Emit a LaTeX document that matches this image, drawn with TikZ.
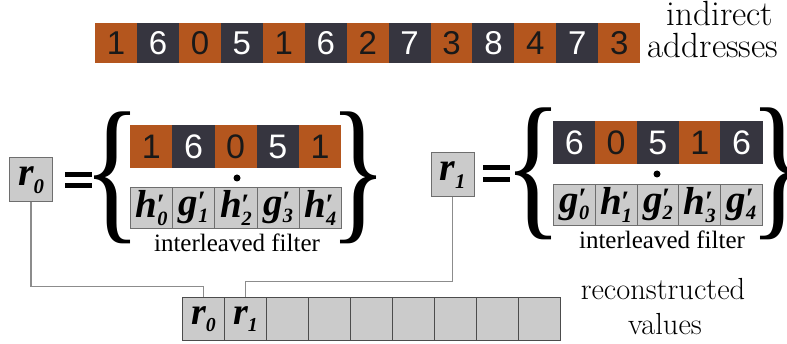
\documentclass[tikz,border=0pt]{standalone}
\usepackage{fontspec}
\usepackage{graphicx}
\setmainfont{Liberation Serif}
\newfontfamily\serf{Liberation Serif}
\newfontfamily\digitfont{Liberation Sans}
\definecolor{orng}{HTML}{B4561E}
\definecolor{drk}{HTML}{36353F}
\definecolor{cellgray}{HTML}{CBCBCB}
\definecolor{cellline}{HTML}{6E6E6E}
\definecolor{wire}{HTML}{8C8C8C}
\newcommand\base{\serf\fontsize{25}{25}\selectfont}
\newcommand\lmbig[1]{\fontfamily{lmr}\fontsize{#1}{#1}\selectfont}
\newcommand\fv[2]{{\base\bfseries\itshape #1\rlap{\raisebox{.08em}{\fontsize{19}{19}\selectfont\kern-.6pt ′}}\raisebox{-.2em}{\fontsize{13}{13}\selectfont #2}}}
\newcommand\rv[1]{{\base\bfseries\itshape r\raisebox{-.2em}{\fontsize{13}{13}\selectfont #1}}}
\newcommand\bigbrace[1]{\resizebox*{58pt}{132pt}{#1}}
\begin{document}
\begin{tikzpicture}[x=1pt,y=-1pt,
  numtop/.style={minimum width=41.92pt, minimum height=40pt, inner sep=0pt, anchor=north west, font=\digitfont\fontsize{33}{33}\selectfont},
  topo/.style={numtop, fill=orng, text=black!90},
  topd/.style={numtop, fill=drk, text=white},
  numgrp/.style={minimum width=42.2pt, minimum height=43pt, inner sep=0pt, anchor=north west, font=\digitfont\fontsize{34}{34}\selectfont},
  grpo/.style={numgrp, fill=orng, text=black!90},
  grpd/.style={numgrp, fill=drk, text=white},
  filt/.style={minimum width=42.2pt, minimum height=41pt, inner sep=0pt, anchor=north west, fill=cellgray, draw=cellline, line width=0.9pt},
  rbox/.style={minimum width=43pt, minimum height=44pt, inner sep=0pt, fill=cellgray, draw=cellline, line width=1pt},
  bcell/.style={minimum width=42pt, minimum height=43pt, inner sep=0pt, anchor=north west, fill=cellgray, draw=black!70, line width=0.9pt},
  bcelltext/.style={inner sep=0pt},
  bracen/.style={inner sep=0pt, font=\serf\fontsize{20}{20}\selectfont},
  dotn/.style={circle, fill=black, inner sep=0pt, minimum size=7pt},
  eqbar/.style={fill=black},
  lbl/.style={inner sep=0pt, anchor=base, font=\base},
  toplbl/.style={inner sep=0pt, anchor=base, font=\lmbig{35}},
  reclbl/.style={inner sep=0pt, anchor=base, font=\lmbig{30.5}},
  wireline/.style={draw=wire, line width=1.6pt}
]
\useasboundingbox (0,0) rectangle (787,344);
\fill[white] (0,0) rectangle (787,344);

% top row of indirect addresses
\foreach \d/\s [count=\i from 0] in {1/topo,6/topd,0/topo,5/topd,1/topo,6/topd,2/topo,7/topd,3/topo,8/topd,4/topo,7/topd,3/topo}
  \node[\s] (t\i) at ({95+41.92*\i},23) {\d};
\node[toplbl] (ind) at (720,26) {indirect};
\node[toplbl] (addr) at (713,58) {addresses};

% left group
\node[rbox] (r0) at (31,180) {\scalebox{1.6}{\rv{0}}};
\fill[eqbar] (65,172) rectangle (92,177);
\fill[eqbar] (65,183) rectangle (92,188);
\node[bracen] (lbA) at (113,178) {\bigbrace{\{}};
\foreach \d/\s [count=\i from 0] in {1/grpo,6/grpd,0/grpo,5/grpd,1/grpo}
  \node[\s] (a\i) at ({130+42.2*\i},125) {\d};
\node[dotn] (dotA) at (237,178) {};
\foreach \l/\n [count=\i from 0] in {h/0,g/1,h/2,g/3,h/4}
  \node[filt] (fa\i) at ({130+42.2*\i},187) {\scalebox{1.56}{\fv{\l}{\n}}};
\node[bracen] (rbA) at (359,178) {\bigbrace{\}}};
\node[lbl] (ifA) at (237,252) {interleaved filter};

% right group
\node[rbox] (r1) at (452.5,175) {\scalebox{1.6}{\rv{1}}};
\fill[eqbar] (483,165) rectangle (510,170);
\fill[eqbar] (483,177) rectangle (510,182);
\node[bracen] (lbB) at (533,174) {\bigbrace{\{}};
\foreach \d/\s [count=\i from 0] in {6/grpd,0/grpo,5/grpd,1/grpo,6/grpd}
  \node[\s] (b\i) at ({553+41.8*\i},121) {\d};
\node[dotn] (dotB) at (657,174) {};
\foreach \l/\n [count=\i from 0] in {g/0,h/1,g/2,h/3,g/4}
  \node[filt, minimum width=41.8pt] (fb\i) at ({553+41.8*\i},184) {\scalebox{1.56}{\fv{\l}{\n}}};
\node[bracen] (rbB) at (778,174) {\bigbrace{\}}};
\node[lbl] (ifB) at (662,249) {interleaved filter};

% reconstructed values
\foreach \i in {0,...,8}
  \node[bcell] (c\i) at ({182+42*\i},297) {};
\node[bcelltext] (rc0) at (c0.center) {\scalebox{1.52}{\rv{0}}};
\node[bcelltext] (rc1) at (c1.center) {\scalebox{1.52}{\rv{1}}};
\node[reclbl] (rec) at (663,300) {reconstructed};
\node[reclbl] (val) at (665,335) {values};

% connectors
\draw[wireline] (r0.south) -- ++(0,84) -| (c0.north);
\draw[wireline] (r1.south) -- ++(0,84) -| (c1.north);
\end{tikzpicture}
\end{document}
